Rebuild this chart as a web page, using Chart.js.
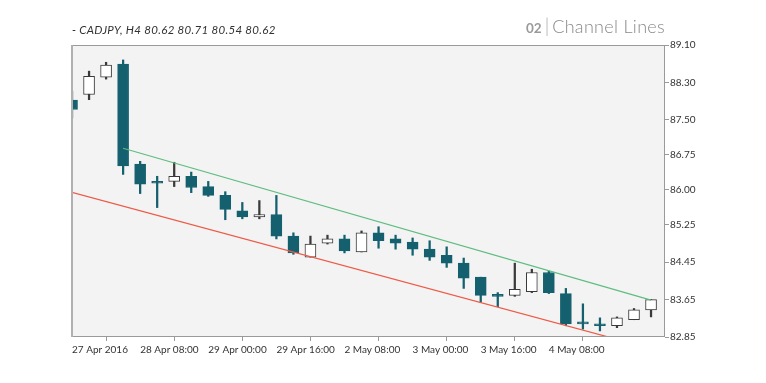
<!DOCTYPE html>
<html><head><meta charset="utf-8">
<script src="https://cdn.jsdelivr.net/npm/chart.js@4.4.0/dist/chart.umd.min.js"></script>
<style>
html,body{margin:0;padding:0;background:#fff;}
#wrap{position:relative;width:766px;height:383px;overflow:hidden;}
#c{position:absolute;left:0;top:0;}
#sym{position:absolute;left:72px;top:23px;font-family:Lato,sans-serif;font-style:italic;font-size:11.5px;color:#333;white-space:nowrap;letter-spacing:0.3px;}
#ttl{position:absolute;right:101px;top:14px;font-family:Lato,sans-serif;white-space:nowrap;display:flex;align-items:baseline;}
#ttl .n{font-weight:700;font-size:13.5px;color:#9a9a9a;}
#ttl .b{font-weight:300;font-size:19px;color:#aaa;margin:0 3px 0 3px;}
#ttl .t{font-weight:300;font-size:18px;color:#888;letter-spacing:0.3px;}
</style></head>
<body><div id="wrap">
<canvas id="c" width="766" height="383"></canvas>
<div id="sym">- CADJPY, H4 80.62 80.71 80.54 80.62</div>
<div id="ttl"><span class="n">02</span><span class="b">|</span><span class="t">Channel Lines</span></div>
</div>
<script>
// ---- data ----
const opens  = [87.92, 88.04, 88.41, 88.69, 86.55, 86.18, 86.18, 86.29, 86.07, 85.88, 85.55, 85.42, 85.47, 85.01, 84.56, 84.86, 84.95, 84.67, 85.08, 84.95, 84.88, 84.73, 84.60, 84.43, 84.13, 83.74, 83.74, 83.82, 84.23, 83.78, 83.17, 83.13, 83.09, 83.22, 83.43];
const highs  = [88.11, 88.54, 88.73, 88.78, 86.61, 86.29, 86.59, 86.38, 86.18, 85.96, 85.73, 85.77, 85.88, 85.08, 85.01, 85.03, 85.03, 85.12, 85.21, 85.03, 84.97, 84.91, 84.78, 84.54, 84.13, 83.80, 84.43, 84.30, 84.26, 83.89, 83.56, 83.26, 83.28, 83.46, 83.65];
const lows   = [87.54, 87.93, 88.37, 86.33, 85.92, 85.62, 86.07, 85.94, 85.86, 85.36, 85.38, 85.38, 84.95, 84.62, 84.56, 84.84, 84.65, 84.67, 84.75, 84.73, 84.60, 84.49, 84.34, 83.89, 83.59, 83.50, 83.72, 83.80, 83.78, 83.09, 83.02, 82.98, 83.05, 83.22, 83.28];
const closes = [87.72, 88.43, 88.67, 86.51, 86.12, 86.14, 86.29, 86.05, 85.88, 85.58, 85.42, 85.47, 85.01, 84.65, 84.84, 84.95, 84.69, 85.08, 84.91, 84.86, 84.73, 84.56, 84.43, 84.11, 83.74, 83.72, 83.87, 84.23, 83.80, 83.13, 83.13, 83.09, 83.26, 83.43, 83.65];
const timeTickIndex  = [0, 4, 8, 12, 16, 20, 24, 28];
const timeTickLabels = ['27 Apr 2016', '28 Apr 08:00', '29 Apr 00:00', '29 Apr 16:00', '2 May 08:00', '3 May 00:00', '3 May 16:00', '4 May 08:00'];
const priceTicks = [82.85, 83.65, 84.45, 85.25, 86.00, 86.75, 87.50, 88.30, 89.10];
const upperChannel = [{x: 3, y: 86.89}, {x: 34, y: 83.64}];
const lowerChannel = [{x: -0.06, y: 85.95}, {x: 31.8, y: 82.82}];

// ---- chart ----
const TEAL = '#15606e';
const HOLLOW_EDGE = '#3a3a3a';
const isUp = i => closes[i] >= opens[i];
const bodies = opens.map((o, i) => ({x: i, y: [o, closes[i]]}));
const wicks = lows.map((l, i) => ({x: i, y: [l, highs[i]]}));

const frame = {
  id: 'frame',
  beforeDatasetsDraw(chart) {
    const {ctx, chartArea: a} = chart;
    ctx.save();
    ctx.fillStyle = '#f3f3f3';
    ctx.fillRect(a.left, a.top, a.right - a.left, a.bottom - a.top);
    ctx.restore();
  },
  afterDatasetsDraw(chart) {
    const {ctx, chartArea: a} = chart;
    ctx.save();
    ctx.strokeStyle = '#9a9a9a';
    ctx.lineWidth = 1;
    ctx.beginPath();
    ctx.moveTo(a.left, a.top + 0.5); ctx.lineTo(a.right, a.top + 0.5);
    ctx.moveTo(a.right - 0.5, a.top); ctx.lineTo(a.right - 0.5, a.bottom);
    ctx.moveTo(a.left, a.bottom - 0.5); ctx.lineTo(a.right, a.bottom - 0.5);
    ctx.stroke();
    ctx.strokeStyle = '#b0b0b0';
    ctx.lineWidth = 2;
    ctx.beginPath();
    ctx.moveTo(a.left + 1, a.top); ctx.lineTo(a.left + 1, a.bottom);
    ctx.stroke();
    ctx.restore();
  }
};

new Chart(document.getElementById('c'), {
  type: 'bar',
  data: {
    datasets: [
      {type: 'line', data: upperChannel, borderColor: '#5fbd80', borderWidth: 1.2, pointRadius: 0, fill: false, order: 0, clip: 0},
      {type: 'line', data: lowerChannel, borderColor: '#ee5a46', borderWidth: 1.2, pointRadius: 0, fill: false, order: 1, clip: 0},
      {data: bodies, grouped: false, barThickness: 11, minBarLength: 2, borderWidth: 1, borderSkipped: false,
        backgroundColor: c => isUp(c.dataIndex) ? '#ffffff' : TEAL,
        borderColor: c => isUp(c.dataIndex) ? HOLLOW_EDGE : TEAL, order: 2, clip: 0},
      {data: wicks, grouped: false, barThickness: 1.6, borderWidth: 0,
        backgroundColor: c => isUp(c.dataIndex) ? HOLLOW_EDGE : TEAL, order: 3, clip: 0}
    ]
  },
  plugins: [frame],
  options: {
    responsive: false,
    animation: false,
    devicePixelRatio: 1,
    layout: {padding: {left: 71, top: 45, right: 0, bottom: 0}},
    plugins: {legend: {display: false}, tooltip: {enabled: false}, title: {display: false}},
    scales: {
      x: {
        type: 'linear', min: -0.06, max: 34.82, offset: false,
        afterFit: s => { s.height = 46; },
        afterBuildTicks: s => { s.ticks = timeTickIndex.map(v => ({value: v})); },
        ticks: {
          callback: (v, i) => timeTickLabels[i],
          align: 'start', maxRotation: 0, autoSkip: false, padding: 3,
          color: '#333', font: {family: 'Lato', size: 10}
        },
        grid: {display: true, drawOnChartArea: false, drawTicks: true, tickLength: 4, color: '#999'},
        border: {display: false}
      },
      y: {
        type: 'linear', position: 'right', min: 82.85, max: 89.10,
        afterFit: s => { s.width = 101; },
        afterBuildTicks: s => { s.ticks = priceTicks.map(v => ({value: v})); },
        ticks: {
          callback: v => v.toFixed(2),
          padding: 1, color: '#333', font: {family: 'Lato', size: 10}
        },
        grid: {display: true, drawOnChartArea: false, drawTicks: true, tickLength: 4, color: '#999'},
        border: {display: false}
      }
    }
  }
});
</script>
</body></html>
